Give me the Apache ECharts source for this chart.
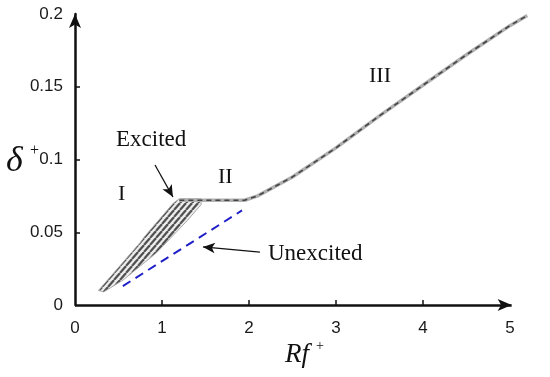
<!DOCTYPE html>
<html>
<head>
<meta charset="utf-8">
<script src="https://cdn.jsdelivr.net/npm/echarts@6/dist/echarts.min.js"></script>
<style>
html, body { margin: 0; padding: 0; background: #fff; }
#main { width: 550px; height: 377px; }
</style>
</head>
<body>
<div id="main"></div>
<script>
// data (x = Rf+, y = delta+)
var xTicks = [0, 1, 2, 3, 4, 5];
var yTicks = [0, 0.05, 0.1, 0.15, 0.2];
// excited band: upper edge left->right, then lower edge right->left
var bandUpper = [[0.27, 0.010], [0.75, 0.043], [0.80, 0.047], [1.13, 0.070], [1.20, 0.073], [1.45, 0.073]];
var bandLower = [[1.45, 0.069], [1.29, 0.058], [0.94, 0.036], [0.55, 0.017], [0.33, 0.009]];
// regions II + III curve
var mainCurve = [[1.20, 0.072], [1.50, 0.072], [1.95, 0.072], [2.10, 0.075], [2.50, 0.088], [3.00, 0.108],
                 [3.50, 0.130], [4.00, 0.151], [4.50, 0.172], [5.00, 0.192], [5.20, 0.199]];
var unexcited = [[0.55, 0.013], [1.92, 0.065]];
// annotation arrows [from, to]
var arrowExcited = [[0.92, 0.0962], [1.126, 0.0742]];
var arrowUnexcited = [[2.126, 0.0364], [1.471, 0.0399]];

// striped fill for the band
var tile = document.createElement('canvas');
tile.width = 6; tile.height = 7;
var c = tile.getContext('2d');
c.fillStyle = '#ececec';
c.fillRect(0, 0, 6, 7);
c.strokeStyle = '#505050';
c.lineWidth = 2.2;
[-6, 0, 6].forEach(function (o) {
    c.beginPath(); c.moveTo(o, 7); c.lineTo(o + 6, 0); c.stroke();
});

var serif = 'Liberation Serif';
var fmt = function (v) { return String(+(+v).toFixed(3)); };

var dom = document.getElementById('main');
var myChart = echarts.init(dom);
var option = {
    animation: false,
    grid: { left: 75, right: 14, top: 14, bottom: 72 },
    xAxis: {
        type: 'value', min: 0, max: 5.3,
        axisLine: { show: false },
        axisTick: { show: true, inside: true, length: 5, customValues: [1, 2, 3, 4],
                    lineStyle: { color: '#111', width: 1.5 } },
        axisLabel: { customValues: xTicks, formatter: fmt, fontFamily: 'Liberation Sans',
                     fontSize: 17, color: '#1a1a1a', margin: 15 },
        splitLine: { show: false }
    },
    yAxis: {
        type: 'value', min: 0, max: 0.2,
        axisLine: { show: true, symbol: ['none', 'arrow'], symbolSize: [9, 14],
                    lineStyle: { color: '#111', width: 2.5 } },
        axisTick: { show: true, inside: true, length: 5, customValues: [0.05, 0.1, 0.15],
                    lineStyle: { color: '#111', width: 1.5 } },
        axisLabel: { customValues: yTicks, formatter: fmt, fontFamily: 'Liberation Sans',
                     fontSize: 17, color: '#1a1a1a', margin: 12 },
        splitLine: { show: false }
    },
    graphic: [
        { type: 'text', left: 6, top: 144, style: { text: 'δ', font: 'italic 36px "' + serif + '"', fill: '#111' } },
        { type: 'text', left: 30, top: 143, style: { text: '+', font: '16px "' + serif + '"', fill: '#111' } },
        { type: 'text', left: 285, top: 341, style: { text: 'Rf', font: 'italic 27px "' + serif + '"', fill: '#111' } },
        { type: 'text', left: 316, top: 339, style: { text: '+', font: '14px "' + serif + '"', fill: '#111' } },
        { type: 'text', left: 116, top: 128, style: { text: 'Excited', font: '23px "' + serif + '"', fill: '#111' } },
        { type: 'text', left: 268, top: 242, style: { text: 'Unexcited', font: '23px "' + serif + '"', fill: '#111' } },
        { type: 'text', left: 118, top: 183, style: { text: 'I', font: '22px "' + serif + '"', fill: '#111' } },
        { type: 'text', left: 218, top: 166, style: { text: 'II', font: '22px "' + serif + '"', fill: '#111' } },
        { type: 'text', left: 369, top: 65, style: { text: 'III', font: '22px "' + serif + '"', fill: '#111' } }
    ],
    series: [
        {
            type: 'custom', silent: true, z: 3,
            data: [[0, 0]],
            renderItem: function (params, api) {
                var pts = bandUpper.concat(bandLower).map(function (p) { return api.coord(p); });
                return {
                    type: 'polygon',
                    shape: { points: pts },
                    style: { fill: { image: tile, repeat: 'repeat' }, stroke: '#aaa', lineWidth: 1 }
                };
            }
        },
        {
            type: 'line', data: mainCurve, symbol: 'none', silent: true, z: 3,
            lineStyle: { color: '#b0b0b0', width: 3.5 }
        },
        {
            type: 'line', data: mainCurve, symbol: 'none', silent: true, z: 4,
            lineStyle: { color: '#444', width: 1.6, type: [5, 4] }
        },
        {
            type: 'line', data: unexcited, symbol: 'none', silent: true, z: 4,
            lineStyle: { color: '#1f1fc8', width: 2, type: [9, 6] },
            markLine: {
                silent: true, animation: false,
                symbol: ['none', 'arrow'],
                label: { show: false },
                data: [
                    [{ coord: [0, 0], symbolSize: 0, lineStyle: { width: 2.5, color: '#111' } },
                     { coord: [5.02, 0], symbolSize: [9, 14] }],
                    [{ coord: arrowExcited[0], symbolSize: 0, lineStyle: { width: 1.3, color: '#111' } },
                     { coord: arrowExcited[1], symbolSize: [8, 12] }],
                    [{ coord: arrowUnexcited[0], symbolSize: 0, lineStyle: { width: 1.3, color: '#111' } },
                     { coord: arrowUnexcited[1], symbolSize: [8, 12] }]
                ],
                lineStyle: { type: 'solid', color: '#111' }
            }
        }
    ]
};

if (option && typeof option === "object") {
    myChart.setOption(option, true);
}
</script>
</body>
</html>
